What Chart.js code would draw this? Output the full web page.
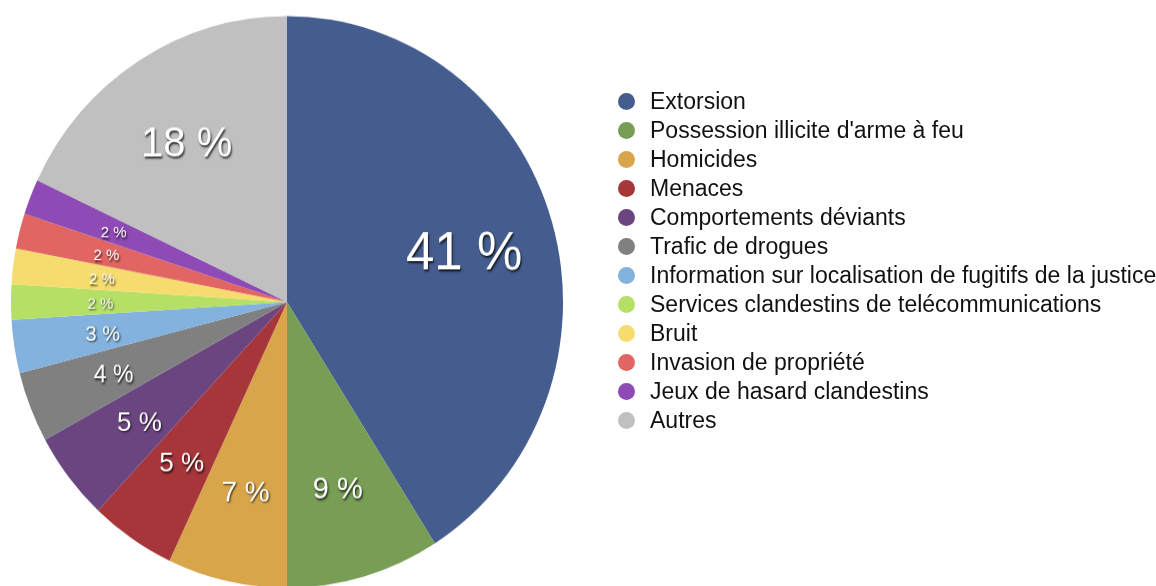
<!DOCTYPE html>
<html lang="fr">
<head>
<meta charset="utf-8">
<script src="https://cdn.jsdelivr.net/npm/chart.js@4.4.1/dist/chart.umd.min.js"></script>
<style>
  html, body { margin: 0; padding: 0; background: #fff; width: 1156px; height: 586px; overflow: hidden; position: relative; }
  #pieWrap { position: absolute; left: 0; top: 0; width: 574px; height: 586px; transform: scaleY(1.036); transform-origin: 0 0; }
  #legend { position: absolute; left: 0; top: 0; width: 1156px; height: 586px; font-family: "Liberation Sans", Arial, sans-serif; font-size: 23px; color: #111; }
  .item { position: absolute; left: 618px; height: 29px; white-space: nowrap; }
  .dot { position: absolute; left: 0; top: 6px; width: 17px; height: 17px; border-radius: 50%; }
  .txt { position: absolute; left: 32px; top: 1px; line-height: 26px; }
</style>
</head>
<body>
<div id="pieWrap"><canvas id="c" width="574" height="586"></canvas></div>
<div id="legend"></div>
<script>
// ---- data ----
const categories = [
  "Extorsion",
  "Possession illicite d'arme à feu",
  "Homicides",
  "Menaces",
  "Comportements déviants",
  "Trafic de drogues",
  "Information sur localisation de fugitifs de la justice",
  "Services clandestins de telécommunications",
  "Bruit",
  "Invasion de propriété",
  "Jeux de hasard clandestins",
  "Autres"
];
const percentages = [41, 9, 7, 5, 5, 4, 3, 2, 2, 2, 2, 18];

// ---- styles ----
const sliceColors = [
  "#445d8e", "#789d55", "#d8a54a", "#a7363a", "#6a4580", "#808080",
  "#82b2dd", "#b5e065", "#f6dc6e", "#e16663", "#8e4ab5", "#c0c0c0"
];
const labelFontSizes = [51, 29, 28, 26, 26, 23, 20, 15, 15, 15, 15, 40];

const sliceLabels = {
  id: 'sliceLabels',
  afterDatasetsDraw(chart) {
    const ctx = chart.ctx;
    const meta = chart.getDatasetMeta(0);
    const ds = chart.data.datasets[0];
    meta.data.forEach((arc, i) => {
      const p = arc.getProps(['x', 'y', 'startAngle', 'endAngle', 'outerRadius'], true);
      const mid = (p.startAngle + p.endAngle) / 2;
      const r = p.outerRadius * 0.672;
      const fs = labelFontSizes[i];
      const x = p.x + Math.cos(mid) * r - 1;
      const y = p.y + Math.sin(mid) * r + fs * 0.13;
      ctx.save();
      ctx.font = fs + 'px "Liberation Sans", Arial, sans-serif';
      ctx.textAlign = 'center';
      ctx.textBaseline = 'middle';
      ctx.shadowColor = 'rgba(0,0,0,0.75)';
      ctx.shadowOffsetX = 1;
      ctx.shadowOffsetY = 1.5;
      ctx.shadowBlur = 2;
      ctx.fillStyle = '#ffffff';
      ctx.fillText(ds.data[i] + ' %', x, y);
      ctx.restore();
    });
  }
};

new Chart(document.getElementById('c'), {
  type: 'pie',
  data: {
    labels: categories,
    datasets: [{
      data: percentages,
      backgroundColor: sliceColors,
      borderWidth: 0
    }]
  },
  options: {
    responsive: false,
    animation: false,
    events: [],
    layout: { padding: { left: 11, right: 11, top: 15.5, bottom: 18.5 } },
    plugins: { legend: { display: false }, tooltip: { enabled: false } }
  },
  plugins: [sliceLabels]
});

// ---- legend ----
const legend = document.getElementById('legend');
categories.forEach((name, i) => {
  const item = document.createElement('div');
  item.className = 'item';
  item.style.top = (87 + i * 29) + 'px';
  const dot = document.createElement('span');
  dot.className = 'dot';
  dot.style.background = sliceColors[i];
  const txt = document.createElement('span');
  txt.className = 'txt';
  txt.textContent = name;
  item.appendChild(dot);
  item.appendChild(txt);
  legend.appendChild(item);
});
</script>
</body>
</html>
